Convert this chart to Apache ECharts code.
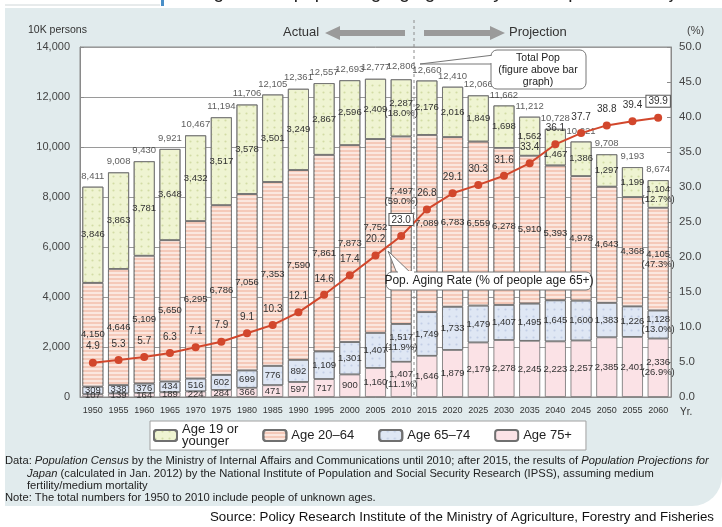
<!DOCTYPE html>
<html>
<head>
<meta charset="utf-8">
<script src="https://cdn.jsdelivr.net/npm/echarts@6/dist/echarts.min.js"></script>
<style>
  html, body { margin: 0; padding: 0; background: #fff; }
  #chart { width: 722px; height: 527px; }
</style>
</head>
<body>
<div id="chart"></div>
<script>
// Census years (actual to 2010, projection from 2015)
const years = ['1950','1955','1960','1965','1970','1975','1980','1985','1990','1995','2000','2005','2010',
               '2015','2020','2025','2030','2035','2040','2045','2050','2055','2060'];

// Population in units of 10K persons
const totalPop   = [8411, 9008, 9430, 9921, 10467, 11194, 11706, 12105, 12361, 12557, 12693, 12777, 12806,
                    12660, 12410, 12066, 11662, 11212, 10728, 10221, 9708, 9193, 8674];
const age0to19   = [3846, 3863, 3781, 3648, 3432, 3517, 3578, 3501, 3249, 2867, 2596, 2409, 2287,
                    2176, 2016, 1849, 1698, 1562, 1467, 1386, 1297, 1199, 1104];
const age20to64  = [4150, 4646, 5109, 5650, 6295, 6786, 7056, 7353, 7590, 7861, 7873, 7752, 7497,
                    7089, 6783, 6559, 6278, 5910, 5393, 4978, 4643, 4368, 4105];
const age65to74  = [309, 338, 376, 434, 516, 602, 699, 776, 892, 1109, 1301, 1407, 1517,
                    1749, 1733, 1479, 1407, 1495, 1645, 1600, 1383, 1226, 1128];
const age75plus  = [107, 139, 164, 189, 224, 284, 366, 471, 597, 717, 900, 1160, 1407,
                    1646, 1879, 2179, 2278, 2245, 2223, 2257, 2385, 2401, 2336];

// Share of people aged 65+ (%)
const agingRate  = [4.9, 5.3, 5.7, 6.3, 7.1, 7.9, 9.1, 10.3, 12.1, 14.6, 17.4, 20.2, 23.0,
                    26.8, 29.1, 30.3, 31.6, 33.4, 36.1, 37.7, 38.8, 39.4, 39.9];

// Age-group shares (%) shown for 2010 and 2060: [0-19, 20-64, 65-74, 75+]
const share2010 = [18.0, 59.0, 11.9, 11.1];
const share2060 = [12.7, 47.3, 13.0, 26.9];

const leftTicks  = [0, 2000, 4000, 6000, 8000, 10000, 12000, 14000];
const rightTicks = [0, 5, 10, 15, 20, 25, 30, 35, 40, 45, 50];

const groupNames = ['Age 19 or younger', 'Age 20\u201364', 'Age 65\u201374', 'Age 75+'];

const fmt = v => v.toLocaleString('en-US');
const NUM_FONT = '"Liberation Sans Narrow", "Liberation Sans", Arial, sans-serif';
const TXT_FONT = '"Liberation Sans", Arial, sans-serif';

const idx2010 = years.indexOf('2010');
const idx2060 = years.indexOf('2060');

// labels nudged off the aging-rate line: [group, year, dx, dy]
const labelNudges = [[1, '2010', 0, -34], [1, '2005', 0, -9], [0, '2040', 0, 7]];

function makeBar(gi, values, color, decal) {
  const data = values.map((v, i) => {
    const n = labelNudges.find(d => d[0] === gi && d[1] === years[i]);
    return n ? { value: v, label: { offset: [n[2], n[3]] } } : v;
  });
  return {
    name: groupNames[gi],
    type: 'bar',
    stack: 'pop',
    barWidth: 21,
    data: data,
    itemStyle: { color: color, borderColor: '#707070', borderWidth: 0.8, decal: decal },
    label: {
      show: true,
      position: 'inside',
      fontFamily: NUM_FONT,
      fontSize: 9.5,
      lineHeight: 10,
      color: '#333',
      formatter: p => {
        let s = fmt(p.value);
        if (p.dataIndex === idx2010) s += '\n(' + share2010[gi].toFixed(1) + '%)';
        if (p.dataIndex === idx2060) s += '\n(' + share2060[gi].toFixed(1) + '%)';
        return s;
      }
    },
    emphasis: { disabled: true },
    z: 2
  };
}

const dots = (c) => ({ symbol: 'circle', symbolSize: 0.7, color: c, dashArrayX: [3, 4], dashArrayY: [3, 4] });
const stripes = { symbol: 'rect', symbolSize: 1, color: 'rgba(255,255,255,0.55)', dashArrayX: [8, 0], dashArrayY: [1.2, 2] };

const boxedYears = ['2010', '2060'];

const chart = echarts.init(document.getElementById('chart'), null, { renderer: 'canvas' });

const option = {
  backgroundColor: '#fff',
  animation: false,
  textStyle: { fontFamily: TXT_FONT },
  grid: { left: 80, right: 51, top: 47, bottom: 130, show: true, backgroundColor: '#fff', borderColor: '#8a8a8a', borderWidth: 1 },
  legend: {
    data: groupNames,
    left: 150, top: 421,
    itemWidth: 23, itemHeight: 11, itemGap: 24,
    padding: [2, 14, 2, 3],
    backgroundColor: '#fff', borderColor: '#a0a0a0', borderWidth: 1,
    selectedMode: false,
    textStyle: { fontFamily: TXT_FONT, fontSize: 13, color: '#222', lineHeight: 12 },
    formatter: n => n === groupNames[0] ? 'Age 19 or\nyounger' : n
  },
  xAxis: {
    type: 'category',
    data: years,
    axisLine: { show: true, lineStyle: { color: '#8a8a8a' } },
    axisTick: { show: false },
    axisLabel: { fontFamily: TXT_FONT, fontSize: 9, color: '#333', margin: 9, interval: 0 }
  },
  yAxis: [
    {
      type: 'value', min: leftTicks[0], max: leftTicks[leftTicks.length - 1], interval: 2000,
      axisLine: { show: true, lineStyle: { color: '#8a8a8a' } },
      axisTick: { show: true, inside: true, length: 4, lineStyle: { color: '#8a8a8a' } },
      axisLabel: { fontFamily: TXT_FONT, fontSize: 11, color: '#444', margin: 10, formatter: v => fmt(v) },
      splitLine: { show: true, lineStyle: { color: '#9a9a9a', width: 1 } }
    },
    {
      type: 'value', min: rightTicks[0], max: rightTicks[rightTicks.length - 1], interval: 5,
      axisLine: { show: true, lineStyle: { color: '#8a8a8a' } },
      axisTick: { show: true, inside: true, length: 4, lineStyle: { color: '#8a8a8a' } },
      axisLabel: { fontFamily: TXT_FONT, fontSize: 11.5, color: '#444', margin: 8, formatter: v => v.toFixed(1) },
      splitLine: { show: false }
    }
  ],
  series: [
    makeBar(3, age75plus, '#fbe2e6', null),
    makeBar(2, age65to74, '#dfe7f4', dots('rgba(150,170,210,0.4)')),
    makeBar(1, age20to64, '#f5c9b9', stripes),
    makeBar(0, age0to19, '#eff4d2', dots('rgba(175,190,110,0.45)')),
    {
      name: 'Total population',
      type: 'scatter',
      data: totalPop,
      symbolSize: 1,
      itemStyle: { color: 'rgba(0,0,0,0)' },
      label: { show: true, position: 'top', distance: 5, fontFamily: NUM_FONT, fontSize: 9.5, color: '#333', formatter: p => fmt(p.value) },
      emphasis: { disabled: true },
      z: 5
    },
    {
      name: 'Pop. Aging Rate',
      type: 'line',
      yAxisIndex: 1,
      data: agingRate.map((v, i) => boxedYears.includes(years[i])
        ? { value: v, label: { borderColor: '#555', borderWidth: 1, backgroundColor: '#fff', padding: [1, 2, 0, 2] } }
        : v),
      symbol: 'circle',
      symbolSize: 8,
      lineStyle: { color: '#d2472c', width: 2 },
      itemStyle: { color: '#d2472c' },
      label: { show: true, position: 'top', distance: 7, fontFamily: NUM_FONT, fontSize: 10, color: '#333', formatter: p => p.value.toFixed(1) },
      emphasis: { disabled: true },
      z: 6
    }
  ],
  graphic: [
    // page panel
    { type: 'rect', z: -100, shape: { x: 5, y: 8, width: 717, height: 498, r: [0, 0, 30, 0] }, style: { fill: '#e1ebed' } },
    { type: 'line', z: -90, shape: { x1: 5, y1: 5, x2: 160, y2: 5 }, style: { stroke: '#cfd6d8', lineWidth: 1 } },
    { type: 'rect', z: -90, shape: { x: 161, y: 0, width: 3, height: 6 }, style: { fill: '#4a8fc8' } },
    { type: 'text', z: -90, left: 168, top: -17, style: { text: 'Changes in Depopulating Aging Society and Population Projections', font: '19px ' + TXT_FONT, fill: '#222' } },
    // axis captions
    { type: 'text', left: 28, top: 25, style: { text: '10K persons', font: '10.5px ' + TXT_FONT, fill: '#333' } },
    { type: 'text', left: 687, top: 25, style: { text: '(%)', font: '11px ' + TXT_FONT, fill: '#444' } },
    { type: 'text', left: 680, top: 407, style: { text: 'Yr.', font: '10px ' + TXT_FONT, fill: '#333' } },
    // actual / projection divider
    { type: 'line', z: 10, shape: { x1: 414, y1: 20, x2: 414, y2: 397 }, style: { stroke: '#8c8c8c', lineWidth: 1, lineDash: [3, 3] } },
    { type: 'text', left: 283, top: 26, style: { text: 'Actual', font: '13px ' + TXT_FONT, fill: '#333' } },
    { type: 'polygon', shape: { points: [[325, 33], [340, 26], [340, 30], [405, 30], [405, 36], [340, 36], [340, 40]] }, style: { fill: '#9a9a9a' } },
    { type: 'polygon', shape: { points: [[424, 30], [490, 30], [490, 26], [505, 33], [490, 40], [490, 36], [424, 36]] }, style: { fill: '#9a9a9a' } },
    { type: 'text', left: 509, top: 26, style: { text: 'Projection', font: '13px ' + TXT_FONT, fill: '#333' } },
    // total population callout
    { type: 'polygon', z: 20, shape: { points: [[420, 64], [494, 55], [494, 64]] }, style: { fill: '#fff', stroke: '#777', lineWidth: 1 } },
    { type: 'rect', z: 20, shape: { x: 491, y: 50, width: 95, height: 39, r: 6 }, style: { fill: '#fff', stroke: '#777', lineWidth: 1 } },
    { type: 'rect', z: 21, shape: { x: 490, y: 56, width: 4, height: 7 }, style: { fill: '#fff' } },
    { type: 'text', z: 22, x: 538, y: 52, style: { text: 'Total Pop\n(figure above bar\ngraph)', font: '10.5px ' + TXT_FONT, fill: '#222', align: 'center', lineHeight: 12 } },
    // aging-rate callout
    { type: 'polygon', z: 20, shape: { points: [[388, 251], [398, 276], [414, 276]] }, style: { fill: '#fff', stroke: '#777', lineWidth: 1 } },
    { type: 'rect', z: 20, shape: { x: 386, y: 272, width: 206, height: 18, r: 6 }, style: { fill: '#fff', stroke: '#777', lineWidth: 1 } },
    { type: 'rect', z: 21, shape: { x: 398, y: 271, width: 16, height: 3 }, style: { fill: '#fff' } },
    { type: 'text', z: 22, x: 489, y: 281, style: { text: 'Pop. Aging Rate (% of people age 65+)', font: '12px ' + TXT_FONT, fill: '#222', align: 'center', verticalAlign: 'middle' } },
    // notes
    { type: 'text', left: 5, top: 455, style: {
        text: 'Data: {i|Population Census} by the Ministry of Internal Affairs and Communications until 2010; after 2015, the results of {i|Population Projections for}',
        font: '11.2px ' + TXT_FONT, fill: '#222', rich: { i: { fontStyle: 'italic', fontSize: 11.2, fontFamily: TXT_FONT } } } },
    { type: 'text', left: 27, top: 468, style: {
        text: '{i|Japan} (calculated in Jan. 2012) by the National Institute of Population and Social Security Research (IPSS), assuming medium',
        font: '11.2px ' + TXT_FONT, fill: '#222', rich: { i: { fontStyle: 'italic', fontSize: 11.2, fontFamily: TXT_FONT } } } },
    { type: 'text', left: 27, top: 480, style: { text: 'fertility/medium mortality', font: '11.2px ' + TXT_FONT, fill: '#222' } },
    { type: 'text', left: 5, top: 492, style: { text: 'Note: The total numbers for 1950 to 2010 include people of unknown ages.', font: '11.2px ' + TXT_FONT, fill: '#222' } },
    { type: 'text', left: 210, top: 511, style: { text: 'Source: Policy Research Institute of the Ministry of Agriculture, Forestry and Fisheries', font: '13.3px ' + TXT_FONT, fill: '#111' } }
  ]
};

chart.setOption(option);
</script>
</body>
</html>
